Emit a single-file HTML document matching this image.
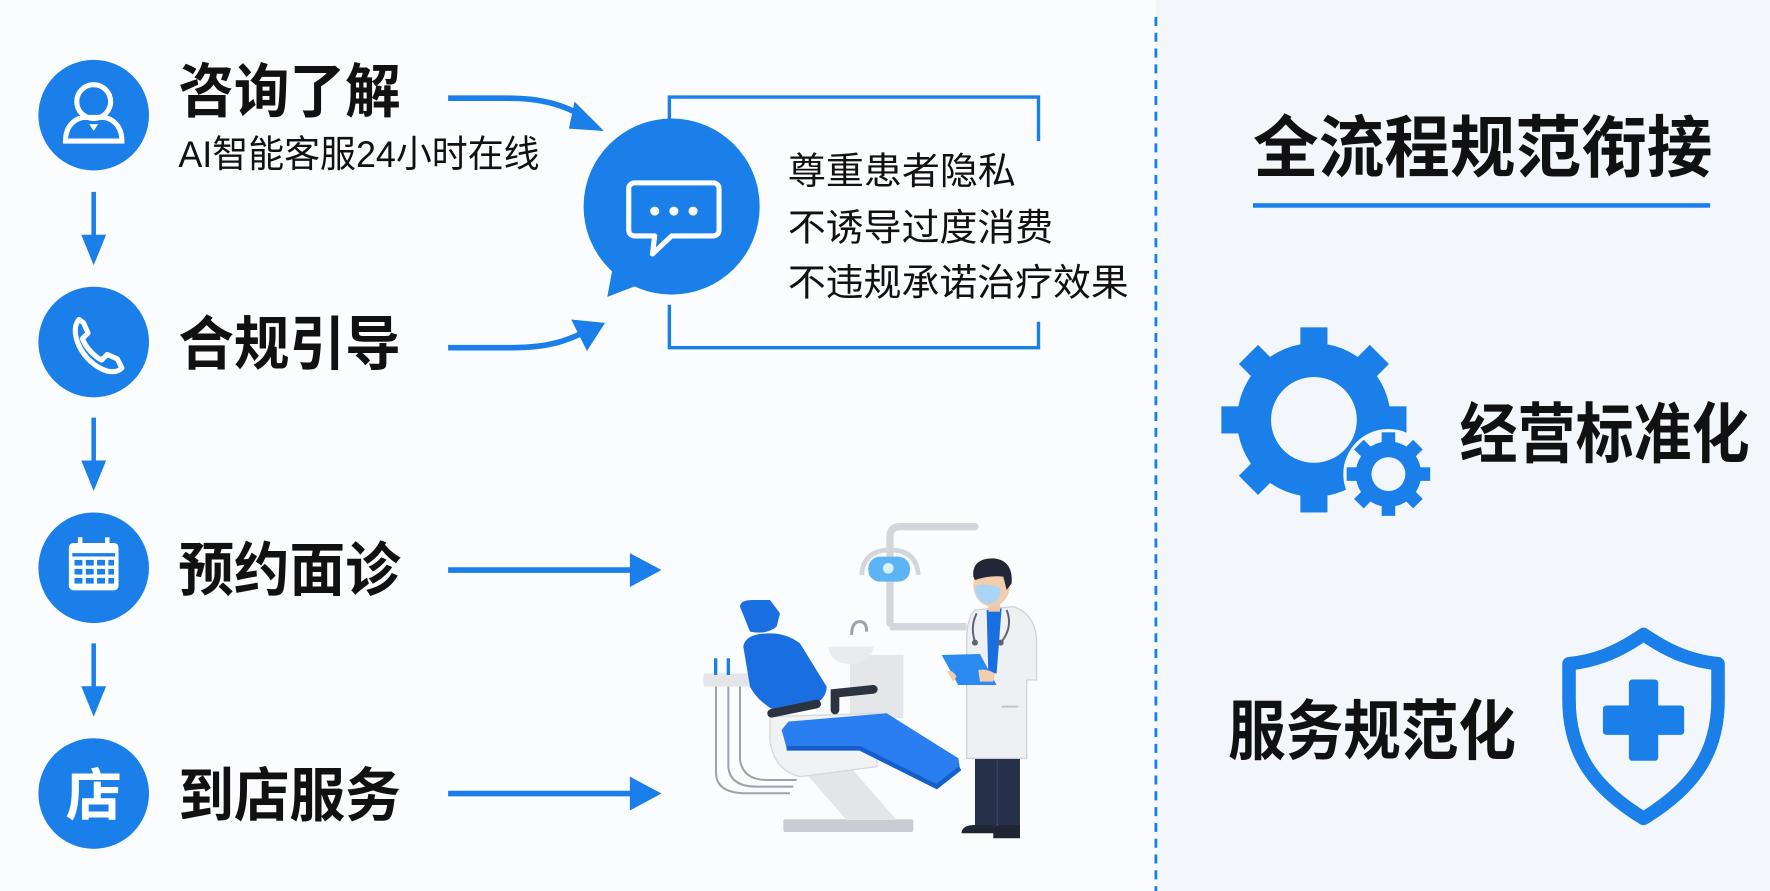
<!DOCTYPE html>
<html><head><meta charset="utf-8"><style>
html,body{margin:0;padding:0;background:#fafbfd;}
svg{display:block;}
text{font-family:"Liberation Sans","Noto Sans CJK SC",sans-serif;}
</style></head><body>
<svg width="1770" height="891" viewBox="0 0 1770 891" xmlns="http://www.w3.org/2000/svg">
<rect width="1770" height="891" fill="#fbfcfd"/>
<g transform="scale(1.1288)">
<rect x="1024" y="0" width="546" height="790" fill="#f3f7fb"/>
<line x1="1024" y1="15" x2="1024" y2="790" stroke="#1a7fe8" stroke-width="2.5" stroke-dasharray="8 6"/>
<g fill="#1a7fe8">
<circle cx="83" cy="102" r="49"/><circle cx="83" cy="303" r="49"/><circle cx="83" cy="503" r="49"/><circle cx="83" cy="703" r="49"/>
</g>
<g fill="none" stroke="#fff" stroke-width="4.5">
<circle cx="83" cy="90" r="15"/>
<path d="M58 125 C58 110 68 104 76 104 L90 104 C98 104 108 110 108 125 Z"/>
</g>
<path d="M79 110 L87 110 L83 116Z" fill="#fff"/>
<path d="M70 283 C64 290 66 305 78 318 C90 330 102 332 108 326 L104 318 L95 314 L90 319 C84 316 76 308 73 300 L78 295 L74 286 Z" fill="none" stroke="#fff" stroke-width="4.5" stroke-linejoin="round"/>
<g fill="#fff">
<rect x="61" y="481" width="44" height="42" rx="4"/>
<rect x="69" y="476" width="4" height="10"/><rect x="93" y="476" width="4" height="10"/>
</g>
<g fill="#1a7fe8">
<rect x="64" y="490" width="38" height="3"/>
<rect x="66" y="496" width="7" height="5"/><rect x="76" y="496" width="7" height="5"/><rect x="86" y="496" width="7" height="5"/><rect x="96" y="496" width="5" height="5"/>
<rect x="66" y="504" width="7" height="5"/><rect x="76" y="504" width="7" height="5"/><rect x="86" y="504" width="7" height="5"/><rect x="96" y="504" width="5" height="5"/>
<rect x="66" y="512" width="7" height="5"/><rect x="76" y="512" width="7" height="5"/><rect x="86" y="512" width="7" height="5"/><rect x="96" y="512" width="5" height="5"/>
</g>
<text x="83" y="722" font-size="50" font-weight="bold" fill="#fff" text-anchor="middle">店</text>
<g font-weight="bold" fill="#111" font-size="52">
<text x="158" y="99" textLength="197" lengthAdjust="spacingAndGlyphs">咨询了解</text>
<text x="158" y="323" textLength="197" lengthAdjust="spacingAndGlyphs">合规引导</text>
<text x="158" y="523" textLength="197" lengthAdjust="spacingAndGlyphs">预约面诊</text>
<text x="158" y="723" textLength="197" lengthAdjust="spacingAndGlyphs">到店服务</text>
</g>
<text x="158" y="148" font-size="33" fill="#111" textLength="320" lengthAdjust="spacingAndGlyphs">AI智能客服24小时在线</text>
<g stroke="#1a7fe8" stroke-width="4" fill="#1a7fe8">
<line x1="83" y1="170" x2="83" y2="215"/><path d="M72 208 L94 208 L83 235Z" stroke="none"/>
<line x1="83" y1="370" x2="83" y2="415"/><path d="M72 408 L94 408 L83 435Z" stroke="none"/>
<line x1="83" y1="570" x2="83" y2="615"/><path d="M72 608 L94 608 L83 635Z" stroke="none"/>
</g>
<g stroke="#1a7fe8" stroke-width="5" fill="none">
<path d="M397 87 L450 87 C480 87 500 93 518 104"/>
<path d="M397 308 L455 308 C485 308 502 302 518 294"/>
<line x1="397" y1="505" x2="565" y2="505"/>
<line x1="397" y1="703" x2="565" y2="703"/>
</g>
<g fill="#1a7fe8">
<path d="M509 90 L535 116 L504 114 Z"/>
<path d="M506 283 L536 286 L520 311 Z"/>
<path d="M558 490 L586 505 L558 520 Z"/>
<path d="M558 688 L586 703 L558 718 Z"/>
</g>
<g stroke="#1a7fe8" stroke-width="3" fill="none">
<path d="M593 125 L593 86 L920 86 L920 125"/>
<path d="M593 270 L593 308 L920 308 L920 285"/>
</g>
<circle cx="595" cy="183" r="78" fill="#1a7fe8"/>
<path d="M545 225 L538 263 L585 245 Z" fill="#1a7fe8"/>
<path d="M562 162 H632 A5 5 0 0 1 637 167 V204 A5 5 0 0 1 632 209 H595 L578 225 L580 209 H562 A5 5 0 0 1 557 204 V167 A5 5 0 0 1 562 162 Z" fill="none" stroke="#fff" stroke-width="4.5" stroke-linejoin="round"/>
<g fill="#fff"><circle cx="580" cy="187" r="4"/><circle cx="597" cy="187" r="4"/><circle cx="614" cy="187" r="4"/></g>
<g font-size="33" fill="#111">
<text x="698" y="163" textLength="202" lengthAdjust="spacingAndGlyphs">尊重患者隐私</text>
<text x="698" y="213" textLength="235" lengthAdjust="spacingAndGlyphs">不诱导过度消费</text>
<text x="698" y="262" textLength="302" lengthAdjust="spacingAndGlyphs">不违规承诺治疗效果</text>
</g>
<text x="1110" y="152" font-size="60" font-weight="bold" fill="#111" textLength="407" lengthAdjust="spacingAndGlyphs">全流程规范衔接</text>
<rect x="1110" y="180" width="405" height="4" fill="#1a7fe8"/>
<g fill="#1a7fe8">
<g transform="translate(1164,372)">
<circle r="68"/>
<rect x="-12" y="-82" width="24" height="164"/>
<rect x="-12" y="-82" width="24" height="164" transform="rotate(45)"/>
<rect x="-12" y="-82" width="24" height="164" transform="rotate(90)"/>
<rect x="-12" y="-82" width="24" height="164" transform="rotate(135)"/>
</g>
<g transform="translate(1230,420)">
<circle r="40" fill="#f3f7fb"/>
<circle r="29"/>
<rect x="-6" y="-37" width="12" height="74"/>
<rect x="-6" y="-37" width="12" height="74" transform="rotate(45)"/>
<rect x="-6" y="-37" width="12" height="74" transform="rotate(90)"/>
<rect x="-6" y="-37" width="12" height="74" transform="rotate(135)"/>
</g>
</g>
<circle cx="1164" cy="372" r="38" fill="#f3f7fb"/>
<circle cx="1230" cy="420" r="15" fill="#f3f7fb"/>
<g font-size="58" font-weight="bold" fill="#111">
<text x="1293" y="405" textLength="257" lengthAdjust="spacingAndGlyphs">经营标准化</text>
<text x="1088" y="668" textLength="255" lengthAdjust="spacingAndGlyphs">服务规范化</text>
</g>
<path d="M1456 562 C1430 580 1410 586 1390 588 L1390 620 C1390 670 1415 700 1456 725 C1497 700 1522 670 1522 620 L1522 588 C1502 586 1482 580 1456 562 Z" fill="none" stroke="#1a7fe8" stroke-width="12" stroke-linejoin="round"/>
<rect x="1443" y="602" width="26" height="72" rx="3" fill="#1a7fe8"/>
<rect x="1420" y="625" width="72" height="26" rx="3" fill="#1a7fe8"/>
</g>
<g transform="translate(660,500) scale(0.3333)">
<path d="M690 370 V110 Q690 80 720 80 H945" fill="none" stroke="#d3d6db" stroke-width="22" stroke-linecap="round"/>
<line x1="690" y1="380" x2="920" y2="380" stroke="#d3d6db" stroke-width="22"/>
<path d="M605 225 Q610 150 690 150 Q770 150 775 225" fill="none" stroke="#d3d6db" stroke-width="14"/>
<rect x="625" y="170" width="125" height="75" rx="35" fill="#5db4f5"/>
<circle cx="685" cy="205" r="16" fill="#d9efff"/>
<rect x="570" y="465" width="160" height="190" fill="#e4e6ea"/>
<path d="M505 440 H640 Q635 490 570 492 Q510 490 505 440Z" fill="#e9ebee"/>
<path d="M575 405 Q575 365 600 365 Q620 365 620 395" fill="none" stroke="#9ca3ad" stroke-width="9"/>
<rect x="130" y="520" width="140" height="40" rx="8" fill="#e3e5e9"/>
<rect x="162" y="475" width="10" height="50" fill="#1a7fe8"/><rect x="200" y="475" width="10" height="50" fill="#1a7fe8"/>
<path d="M168 560 V820 Q170 880 260 880 H390 M205 560 V800 Q210 860 290 860 H400 M240 560 V780 Q250 840 320 840 H410" fill="none" stroke="#9ca3ad" stroke-width="6"/>
<rect x="370" y="958" width="390" height="38" rx="6" fill="#c9ccd2"/>
<path d="M420 800 L570 800 L710 960 L560 960 Z" fill="#e3e5e9"/>
<path d="M330 650 L660 640 L650 800 L420 830 Q340 810 330 720 Z" fill="#f1f2f4" stroke="#d5d8dc" stroke-width="4"/>
<path d="M250 440 Q255 400 330 400 Q380 400 420 430 L500 560 Q500 600 450 620 L340 630 Q290 600 270 560 Z" fill="#1a6fe0"/>
<path d="M240 320 Q240 300 280 300 L330 300 L360 340 L350 380 Q320 405 270 395 Z" fill="#1a6fe0"/>
<path d="M365 690 L385 665 L680 640 L895 775 L900 805 L830 860 L600 745 L380 745 Z" fill="#2a7ef0"/>
<path d="M380 745 L600 745 L830 860 L900 805" fill="none" stroke="#155fcb" stroke-width="14"/>
<path d="M335 640 L470 612" stroke="#2c3340" stroke-width="26" stroke-linecap="round"/>
<path d="M525 630 L525 580 L640 568" fill="none" stroke="#2c3340" stroke-width="26" stroke-linecap="round"/>
<rect x="945" y="770" width="135" height="220" fill="#26304a"/>
<line x1="1012" y1="780" x2="1012" y2="990" stroke="#3a4560" stroke-width="4"/>
<path d="M905 995 Q910 975 945 975 L1000 975 L1000 1000 L905 1000Z M1000 985 Q1010 975 1040 975 L1080 975 L1080 1015 L1000 1015Z" fill="#1f2533"/>
<path d="M945 330 L1060 320 Q1125 340 1130 420 L1130 540 L1100 540 L1100 775 L920 775 L920 430 Q920 350 945 330 Z" fill="#eef0f4" stroke="#cfd4dc" stroke-width="4"/>
<path d="M980 330 L1025 325 L1010 520 L985 520 Z" fill="#1a6fe0"/>
<path d="M950 340 Q930 380 945 425 M1040 330 Q1060 380 1025 425" fill="none" stroke="#5c6475" stroke-width="6"/>
<circle cx="945" cy="428" r="9" fill="#5c6475"/><circle cx="1022" cy="428" r="9" fill="#5c6475"/>
<rect x="985" y="290" width="35" height="45" fill="#f0c8a8"/>
<ellipse cx="995" cy="255" rx="55" ry="65" fill="#f3cdb0"/>
<path d="M940 230 Q935 175 1000 175 Q1060 180 1055 250 L1040 270 L1030 230 Q990 225 945 240 Z" fill="#1f2738"/>
<path d="M945 265 Q950 250 985 255 L1020 262 Q1028 300 990 312 Q950 310 945 265Z" fill="#aad5f5"/>
<path d="M845 465 L960 462 L1010 555 L895 555 Z" fill="#2a8af0"/>
<path d="M955 510 Q980 505 1005 520 L1000 545 L960 545 Z" fill="#f3cdb0"/>
<path d="M862 515 Q875 505 890 530 L880 545 Z" fill="#f3cdb0"/>
<line x1="1025" y1="620" x2="1075" y2="620" stroke="#c0c6cf" stroke-width="6"/>
</g>
</svg>
</body></html>
